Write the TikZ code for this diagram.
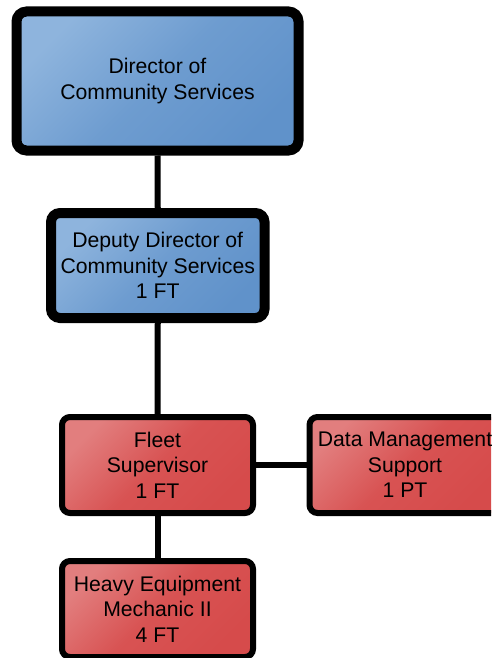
\documentclass[tikz,border=0pt]{standalone}
\usepackage{fontspec}
\setmainfont{Liberation Sans}
\definecolor{bluelight}{HTML}{8EB4DD}
\definecolor{bluedark}{HTML}{6092CA}
\definecolor{redlight}{HTML}{E27E7E}
\definecolor{reddark}{HTML}{D64B4B}
\tikzset{
  box/.style={draw=black, rounded corners=9pt, align=center, inner sep=0pt,
    font=\fontsize{21.2}{25.5}\selectfont},
  bluebox/.style={box, line width=10pt, top color=bluelight, bottom color=bluedark, middle color=bluedark!70!bluelight, shading angle=45},
  redbox/.style={box, line width=6pt, rounded corners=8pt, top color=redlight, bottom color=reddark, middle color=reddark!85!redlight, shading angle=45,
    minimum width=191pt, minimum height=96pt},
  link/.style={line width=6pt, draw=black}
}
\begin{document}
\begin{tikzpicture}[x=1pt,y=-1pt]
\useasboundingbox (0,0) rectangle (491,658);
\clip (0,0) rectangle (491,658);
\node[bluebox, minimum width=282pt, minimum height=139pt, rounded corners=10pt] (dir) at (157.5,81) {Director of\\Community Services};
\node[bluebox, minimum width=213.5pt, minimum height=105pt] (dep) at (157.75,265.5) {Deputy Director of\\Community Services\\1 FT};
\node[redbox] (fleet) at (157.5,465) {Fleet\\Supervisor\\1 FT};
\node[redbox] (data) at (405,465) {Data Management\\Support\\1 PT};
\node[redbox] (heavy) at (157.5,609) {Heavy Equipment\\Mechanic II\\4 FT};
\draw[link] (dir.south) -- (dep.north);
\draw[link] (dep.south) -- (fleet.north);
\draw[link] (fleet.east) -- (data.west);
\draw[link] (fleet.south) -- (heavy.north);
\end{tikzpicture}
\end{document}
